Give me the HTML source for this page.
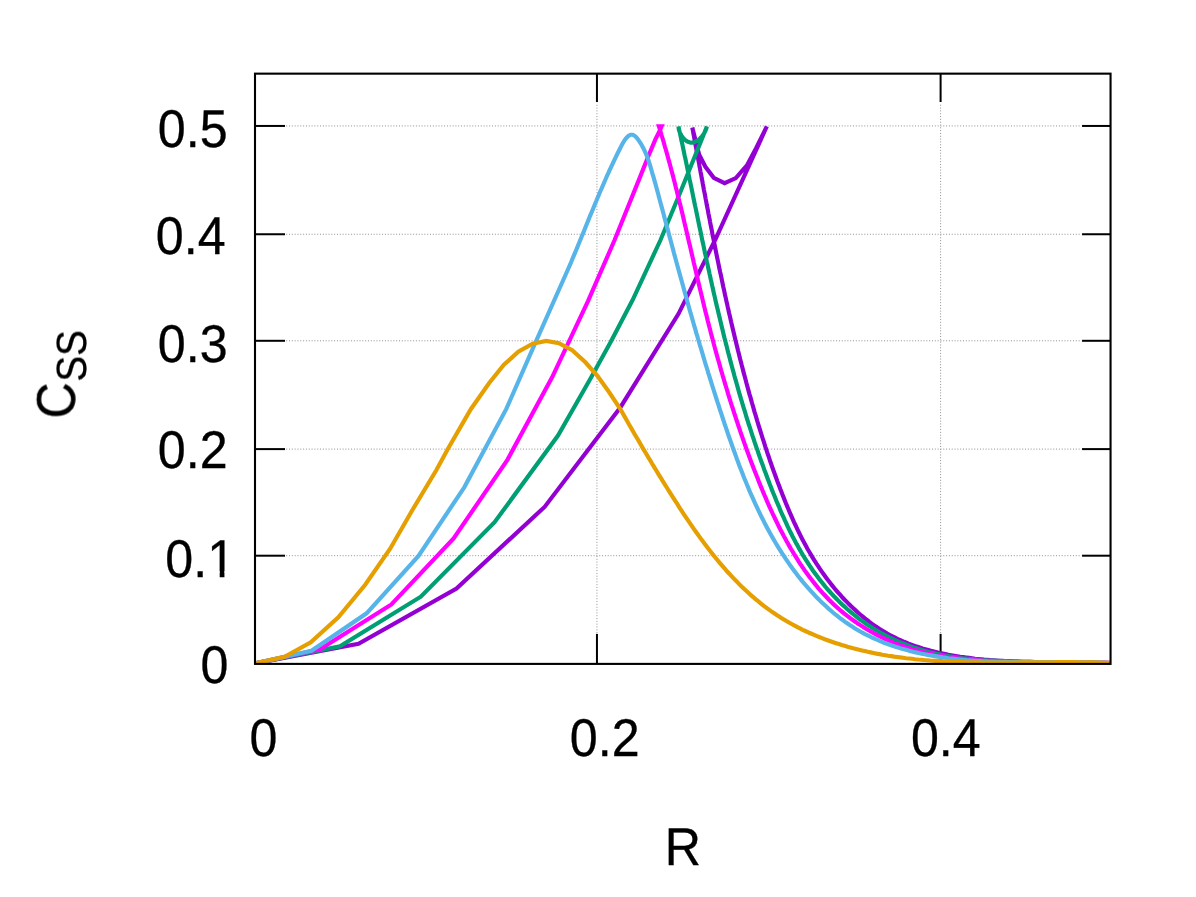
<!DOCTYPE html>
<html><head><meta charset="utf-8"><title>C_SS vs R</title>
<style>html,body{margin:0;padding:0;background:#fff}body{width:1196px;height:897px;overflow:hidden}svg{display:block}text{font-family:"Liberation Sans",sans-serif;fill:#000;stroke:#000;stroke-width:0.3px;text-rendering:geometricPrecision;will-change:transform}</style>
</head><body>
<svg width="1196" height="897" viewBox="0 0 1196 897">
<rect x="0" y="0" width="1196" height="897" fill="#ffffff"/>
<g stroke="#909096" stroke-width="1" stroke-dasharray="1 1.82" fill="none">
<line x1="286.20" y1="125.95" x2="1081.55" y2="125.95"/>
<line x1="286.20" y1="234.25" x2="1081.55" y2="234.25"/>
<line x1="286.20" y1="340.80" x2="1081.55" y2="340.80"/>
<line x1="286.20" y1="449.10" x2="1081.55" y2="449.10"/>
<line x1="286.20" y1="555.70" x2="1081.55" y2="555.70"/>
<line x1="596.95" y1="633.10" x2="596.95" y2="103.65"/>
<line x1="940.60" y1="633.10" x2="940.60" y2="103.65"/>
</g>
<g stroke="#000" stroke-width="2.00" fill="none">
<line x1="255.00" y1="125.95" x2="285.00" y2="125.95"/>
<line x1="1110.55" y1="125.95" x2="1082.05" y2="125.95"/>
<line x1="255.00" y1="234.25" x2="285.00" y2="234.25"/>
<line x1="1110.55" y1="234.25" x2="1082.05" y2="234.25"/>
<line x1="255.00" y1="340.80" x2="285.00" y2="340.80"/>
<line x1="1110.55" y1="340.80" x2="1082.05" y2="340.80"/>
<line x1="255.00" y1="449.10" x2="285.00" y2="449.10"/>
<line x1="1110.55" y1="449.10" x2="1082.05" y2="449.10"/>
<line x1="255.00" y1="555.70" x2="285.00" y2="555.70"/>
<line x1="1110.55" y1="555.70" x2="1082.05" y2="555.70"/>
<line x1="596.95" y1="663.90" x2="596.95" y2="633.90"/>
<line x1="596.95" y1="73.65" x2="596.95" y2="102.05"/>
<line x1="940.60" y1="663.90" x2="940.60" y2="633.90"/>
<line x1="940.60" y1="73.65" x2="940.60" y2="102.05"/>
</g>
<defs><clipPath id="pc"><rect x="255.00" y="73.65" width="855.55" height="590.25"/></clipPath></defs>
<g clip-path="url(#pc)" fill="none" stroke-width="4.15" stroke-linejoin="miter" stroke-miterlimit="10" stroke-linecap="butt">
<polyline stroke="#9400d3" points="255.0,663.4 358.5,643.8 456.5,588.5 544.6,506.9 620.5,407.2 678.5,313.8 715.1,240.0 766.8,126.5 756.2,148.0 746.9,165.4 735.8,178.1 724.6,183.1 713.8,177.8 705.4,166.8 699.2,154.8 692.3,127.5 692.9,130.5 693.4,133.5 694.0,136.4 694.5,139.4 695.1,142.4 695.6,145.4 696.2,148.4 696.7,151.3 697.3,154.3 697.9,157.3 698.4,160.2 699.0,163.2 699.5,166.2 700.1,169.1 700.6,172.1 701.2,175.0 701.7,178.0 702.3,180.9 702.8,183.9 703.4,186.8 703.9,189.8 704.5,192.7 705.1,195.7 705.6,198.6 706.2,201.6 706.7,204.5 707.3,207.5 707.9,210.4 708.4,213.3 709.0,216.3 709.6,219.2 710.1,222.1 710.7,225.1 711.3,228.0 711.9,230.9 712.4,233.9 713.0,236.8 713.6,239.7 714.2,242.6 714.8,245.6 715.3,248.5 715.9,251.4 716.5,254.3 717.1,257.3 717.7,260.2 718.3,263.1 718.9,266.0 719.5,269.0 720.1,271.9 720.8,274.8 721.4,277.7 722.0,280.6 722.6,283.5 723.2,286.5 723.9,289.4 724.5,292.3 725.1,295.2 725.8,298.1 726.4,301.0 727.1,303.9 727.7,306.9 728.4,309.8 729.0,312.7 729.7,315.6 730.4,318.5 731.0,321.4 731.7,324.3 732.4,327.2 733.1,330.2 733.8,333.1 734.5,336.0 735.2,338.9 735.9,341.8 736.6,344.7 737.3,347.6 738.0,350.5 738.8,353.5 739.5,356.4 740.2,359.3 741.0,362.2 741.7,365.1 742.5,368.0 743.2,370.9 744.0,373.9 744.8,376.8 745.6,379.7 746.3,382.6 747.1,385.5 747.9,388.4 748.7,391.4 749.5,394.3 750.4,397.2 751.2,400.1 752.0,403.0 752.9,406.0 753.7,408.9 754.5,411.8 755.4,414.7 756.3,417.6 757.1,420.5 758.0,423.4 758.9,426.3 759.8,429.2 760.7,432.1 761.6,435.0 762.5,437.9 763.5,440.8 764.4,443.7 765.3,446.6 766.3,449.5 767.2,452.4 768.2,455.2 769.2,458.1 770.1,461.0 771.1,463.8 772.1,466.7 773.1,469.5 774.2,472.4 775.2,475.2 776.2,478.0 777.2,480.9 778.3,483.7 779.4,486.5 780.4,489.3 781.5,492.1 782.6,494.9 783.7,497.6 784.8,500.4 785.9,503.2 787.0,505.9 788.2,508.7 789.3,511.4 790.5,514.1 791.7,516.9 792.9,519.6 794.1,522.3 795.4,525.0 796.6,527.6 797.9,530.3 799.2,533.0 800.5,535.6 801.8,538.2 803.2,540.9 804.6,543.5 806.0,546.1 807.4,548.7 808.9,551.2 810.4,553.8 811.9,556.4 813.4,558.9 815.0,561.4 816.6,563.9 818.3,566.4 819.9,568.9 821.6,571.4 823.3,573.8 825.1,576.3 826.9,578.7 828.7,581.1 830.6,583.5 832.5,585.9 834.4,588.2 836.4,590.6 838.4,592.9 840.5,595.2 842.5,597.5 844.6,599.7 846.8,601.9 848.9,604.1 851.1,606.2 853.3,608.3 855.6,610.4 857.9,612.5 860.2,614.5 862.5,616.4 864.9,618.4 867.3,620.2 869.7,622.1 872.1,623.9 874.6,625.6 877.1,627.3 879.6,628.9 882.1,630.5 884.7,632.1 887.2,633.6 889.8,635.0 892.5,636.4 895.1,637.7 897.8,639.0 900.4,640.2 903.1,641.4 905.9,642.5 908.6,643.6 911.3,644.6 914.1,645.6 916.9,646.6 919.7,647.5 922.5,648.4 925.3,649.2 928.2,650.0 931.0,650.8 933.9,651.5 936.8,652.2 939.7,652.9 942.6,653.5 945.5,654.1 948.4,654.7 951.3,655.2 954.3,655.7 957.2,656.2 960.2,656.7 963.2,657.1 966.1,657.5 969.1,657.9 972.1,658.3 975.1,658.7 978.1,659.0 981.1,659.3 984.1,659.6 987.1,659.8 990.2,660.1 993.2,660.3 996.2,660.5 999.2,660.7 1002.3,660.9 1005.3,661.1 1008.4,661.2 1011.4,661.3 1014.4,661.5 1017.5,661.6 1020.5,661.7 1023.6,661.8 1026.6,661.9 1029.7,661.9 1032.7,662.0 1035.8,662.0 1038.8,662.1 1041.9,662.1 1044.9,662.2 1047.9,662.2 1051.0,662.2 1054.0,662.2 1057.0,662.3 1060.0,662.3 1063.1,662.3 1066.1,662.3 1069.1,662.3 1072.1,662.4 1075.1,662.4 1078.1,662.4 1081.1,662.4 1084.1,662.5 1087.0,662.5 1090.0,662.5 1092.9,662.6 1095.9,662.6 1098.8,662.7 1101.8,662.7 1104.7,662.8 1107.6,662.9 1110.5,663.0"/>
<polyline stroke="#009e73" points="255.0,663.4 340.0,646.2 420.8,596.7 494.6,522.2 558.0,435.5 590.8,378.0 610.4,342.5 632.6,300.0 660.5,240.0 680.0,193.0 689.2,170.2 697.7,149.4 706.9,126.5 706.5,127.9 706.1,129.3 705.4,130.8 704.7,132.2 703.9,133.6 703.0,135.0 702.0,136.3 700.9,137.6 699.7,138.7 698.5,139.8 697.3,140.7 696.0,141.4 694.7,142.0 693.4,142.4 692.0,142.6 690.7,142.6 689.4,142.3 688.1,141.8 686.8,141.2 685.6,140.3 684.4,139.3 683.3,138.1 682.3,136.9 681.4,135.5 680.6,134.1 679.9,132.6 679.3,131.1 678.9,129.5 678.6,128.0 678.5,126.5 679.1,129.4 679.8,132.4 680.4,135.3 681.0,138.2 681.6,141.2 682.3,144.1 682.9,147.0 683.5,150.0 684.1,152.9 684.7,155.9 685.4,158.8 686.0,161.7 686.6,164.7 687.2,167.6 687.8,170.6 688.4,173.5 689.0,176.5 689.6,179.4 690.3,182.4 690.9,185.3 691.5,188.2 692.1,191.2 692.7,194.1 693.3,197.1 693.9,200.0 694.5,203.0 695.1,205.9 695.8,208.9 696.4,211.8 697.0,214.8 697.6,217.7 698.2,220.7 698.8,223.6 699.4,226.5 700.1,229.5 700.7,232.4 701.3,235.4 701.9,238.3 702.5,241.3 703.2,244.2 703.8,247.2 704.4,250.1 705.0,253.0 705.7,256.0 706.3,258.9 706.9,261.9 707.6,264.8 708.2,267.8 708.9,270.7 709.5,273.6 710.2,276.6 710.8,279.5 711.5,282.5 712.1,285.4 712.8,288.3 713.4,291.3 714.1,294.2 714.8,297.1 715.4,300.1 716.1,303.0 716.8,305.9 717.5,308.8 718.2,311.8 718.9,314.7 719.6,317.6 720.3,320.6 721.0,323.5 721.7,326.4 722.4,329.3 723.1,332.2 723.8,335.2 724.5,338.1 725.3,341.0 726.0,343.9 726.8,346.8 727.5,349.7 728.2,352.6 729.0,355.5 729.8,358.4 730.5,361.4 731.3,364.3 732.1,367.2 732.9,370.1 733.7,373.0 734.4,375.8 735.2,378.7 736.1,381.6 736.9,384.5 737.7,387.4 738.5,390.3 739.3,393.2 740.2,396.1 741.0,398.9 741.9,401.8 742.7,404.7 743.6,407.6 744.5,410.4 745.4,413.3 746.2,416.2 747.1,419.0 748.0,421.9 748.9,424.8 749.9,427.6 750.8,430.5 751.7,433.3 752.6,436.2 753.6,439.0 754.5,441.9 755.5,444.7 756.5,447.6 757.5,450.4 758.4,453.2 759.4,456.1 760.4,458.9 761.4,461.7 762.5,464.6 763.5,467.4 764.5,470.2 765.6,473.0 766.6,475.8 767.7,478.7 768.8,481.5 769.8,484.3 770.9,487.1 772.0,489.9 773.1,492.7 774.3,495.5 775.4,498.3 776.5,501.1 777.7,503.8 778.9,506.6 780.0,509.4 781.2,512.2 782.4,514.9 783.7,517.7 784.9,520.4 786.2,523.1 787.4,525.9 788.7,528.6 790.0,531.3 791.4,534.0 792.7,536.7 794.1,539.3 795.5,542.0 797.0,544.6 798.4,547.3 799.9,549.9 801.4,552.5 802.9,555.1 804.5,557.6 806.1,560.2 807.7,562.7 809.3,565.2 811.0,567.7 812.7,570.2 814.5,572.7 816.3,575.1 818.1,577.5 819.9,579.9 821.8,582.3 823.7,584.6 825.6,587.0 827.6,589.3 829.6,591.5 831.7,593.8 833.7,596.0 835.9,598.2 838.0,600.4 840.1,602.5 842.3,604.6 844.6,606.6 846.8,608.7 849.1,610.7 851.4,612.6 853.7,614.5 856.0,616.4 858.4,618.3 860.8,620.1 863.3,621.8 865.7,623.5 868.2,625.2 870.7,626.8 873.2,628.4 875.7,630.0 878.3,631.5 880.9,633.0 883.5,634.4 886.1,635.8 888.8,637.1 891.4,638.4 894.1,639.7 896.8,640.9 899.5,642.1 902.2,643.2 905.0,644.3 907.8,645.4 910.5,646.4 913.3,647.4 916.2,648.3 919.0,649.2 921.8,650.1 924.7,650.9 927.5,651.7 930.4,652.4 933.3,653.1 936.2,653.8 939.1,654.4 942.0,655.0 945.0,655.5 947.9,656.0 950.8,656.5 953.8,657.0 956.8,657.4 959.7,657.8 962.7,658.2 965.7,658.5 968.7,658.8 971.7,659.1 974.7,659.4 977.8,659.7 980.8,659.9 983.8,660.1 986.8,660.3 989.9,660.5 992.9,660.6 996.0,660.8 999.0,660.9 1002.1,661.1 1005.1,661.2 1008.2,661.3 1011.2,661.4 1014.3,661.5 1017.3,661.6 1020.4,661.7 1023.4,661.7 1026.5,661.8 1029.6,661.9 1032.6,661.9 1035.7,662.0 1038.7,662.1 1041.8,662.1 1044.8,662.2 1047.9,662.2 1050.9,662.3 1054.0,662.3 1057.0,662.4 1060.0,662.4 1063.1,662.5 1066.1,662.5 1069.1,662.5 1072.1,662.6 1075.1,662.6 1078.1,662.7 1081.1,662.7 1084.1,662.7 1087.0,662.7 1090.0,662.8 1093.0,662.8 1095.9,662.8 1098.9,662.9 1101.8,662.9 1104.7,662.9 1107.6,663.0 1110.5,663.0"/>
<polyline stroke="#ff00ff" points="255.0,663.4 320.0,649.2 391.4,604.5 453.6,538.5 507.4,459.8 552.1,377.3 588.0,301.2 614.6,240.0 640.0,177.1 647.7,157.8 655.4,139.4 660.1,129.8 661.6,126.2 658.9,126.2 659.8,129.2 660.7,132.1 661.5,135.0 662.4,137.9 663.3,140.8 664.1,143.7 664.9,146.6 665.8,149.5 666.6,152.4 667.4,155.3 668.2,158.2 669.0,161.1 669.8,164.0 670.6,166.9 671.3,169.8 672.1,172.7 672.9,175.6 673.6,178.5 674.4,181.4 675.1,184.3 675.8,187.2 676.6,190.1 677.3,193.0 678.0,195.9 678.7,198.8 679.4,201.7 680.2,204.6 680.9,207.5 681.6,210.4 682.3,213.3 683.0,216.2 683.6,219.1 684.3,222.0 685.0,224.9 685.7,227.8 686.4,230.7 687.1,233.7 687.7,236.6 688.4,239.5 689.1,242.4 689.8,245.3 690.5,248.2 691.1,251.1 691.8,254.0 692.5,256.9 693.2,259.8 693.8,262.7 694.5,265.6 695.2,268.5 695.9,271.4 696.5,274.3 697.2,277.3 697.9,280.2 698.6,283.1 699.3,286.0 700.0,288.9 700.7,291.8 701.4,294.7 702.1,297.6 702.8,300.6 703.5,303.5 704.2,306.4 704.9,309.3 705.6,312.2 706.4,315.1 707.1,318.0 707.8,321.0 708.6,323.9 709.3,326.8 710.1,329.7 710.8,332.6 711.6,335.6 712.4,338.5 713.2,341.4 713.9,344.3 714.7,347.2 715.5,350.2 716.3,353.1 717.1,356.0 717.9,358.9 718.8,361.8 719.6,364.7 720.4,367.6 721.2,370.6 722.1,373.5 722.9,376.4 723.8,379.3 724.6,382.2 725.5,385.1 726.4,388.0 727.3,390.9 728.1,393.8 729.0,396.7 729.9,399.6 730.8,402.5 731.7,405.4 732.7,408.2 733.6,411.1 734.5,414.0 735.5,416.9 736.4,419.8 737.4,422.6 738.3,425.5 739.3,428.3 740.2,431.2 741.2,434.1 742.2,436.9 743.2,439.8 744.2,442.6 745.2,445.4 746.2,448.3 747.2,451.1 748.3,453.9 749.3,456.7 750.3,459.6 751.4,462.4 752.5,465.2 753.5,468.0 754.6,470.8 755.7,473.6 756.8,476.3 757.9,479.1 759.0,481.9 760.1,484.7 761.2,487.4 762.4,490.2 763.5,492.9 764.7,495.7 765.9,498.4 767.0,501.1 768.2,503.8 769.4,506.6 770.7,509.3 771.9,512.0 773.1,514.7 774.4,517.3 775.7,520.0 777.0,522.7 778.3,525.4 779.6,528.0 781.0,530.7 782.4,533.3 783.7,535.9 785.2,538.6 786.6,541.2 788.1,543.8 789.5,546.4 791.0,549.0 792.6,551.5 794.1,554.1 795.7,556.7 797.3,559.2 798.9,561.8 800.6,564.3 802.3,566.8 804.0,569.3 805.7,571.8 807.5,574.3 809.3,576.7 811.1,579.1 813.0,581.5 814.9,583.9 816.8,586.2 818.7,588.6 820.7,590.9 822.7,593.1 824.8,595.3 826.9,597.5 829.0,599.7 831.1,601.8 833.3,603.9 835.5,606.0 837.7,608.0 840.0,610.0 842.3,611.9 844.6,613.8 847.0,615.7 849.4,617.5 851.8,619.3 854.2,621.0 856.7,622.8 859.2,624.4 861.7,626.1 864.3,627.7 866.8,629.2 869.4,630.7 872.0,632.2 874.6,633.7 877.3,635.1 879.9,636.4 882.6,637.7 885.3,639.0 888.0,640.2 890.8,641.4 893.5,642.6 896.3,643.7 899.1,644.8 901.9,645.8 904.7,646.8 907.5,647.7 910.3,648.6 913.2,649.5 916.0,650.3 918.9,651.1 921.8,651.8 924.7,652.5 927.6,653.2 930.5,653.8 933.4,654.5 936.3,655.0 939.2,655.6 942.2,656.1 945.1,656.5 948.1,657.0 951.0,657.4 954.0,657.8 957.0,658.2 960.0,658.5 963.0,658.9 965.9,659.2 968.9,659.4 972.0,659.7 975.0,659.9 978.0,660.2 981.0,660.4 984.0,660.6 987.1,660.7 990.1,660.9 993.1,661.1 996.2,661.2 999.2,661.3 1002.2,661.4 1005.3,661.5 1008.3,661.6 1011.4,661.7 1014.4,661.8 1017.5,661.9 1020.5,661.9 1023.6,662.0 1026.6,662.0 1029.6,662.1 1032.7,662.1 1035.7,662.1 1038.8,662.2 1041.8,662.2 1044.9,662.2 1047.9,662.2 1050.9,662.2 1054.0,662.3 1057.0,662.3 1060.0,662.3 1063.0,662.3 1066.0,662.3 1069.0,662.3 1072.0,662.3 1075.0,662.4 1078.0,662.4 1081.0,662.4 1084.0,662.4 1087.0,662.5 1089.9,662.5 1092.9,662.6 1095.9,662.6 1098.8,662.7 1101.7,662.7 1104.7,662.8 1107.6,662.9 1110.5,663.0"/>
<polyline stroke="#56b4e9" points="255.0,663.4 311.5,650.8 366.6,613.3 418.5,556.0 464.4,487.1 506.2,409.2 533.1,347.9 567.7,270.0 568.9,267.2 570.2,264.3 571.4,261.5 572.5,258.7 573.7,255.9 574.9,253.1 576.1,250.3 577.2,247.6 578.3,244.8 579.5,242.0 580.6,239.3 581.7,236.5 582.9,233.8 584.0,231.0 585.1,228.3 586.2,225.5 587.3,222.8 588.4,220.1 589.5,217.3 590.6,214.6 591.8,211.9 592.9,209.2 594.0,206.4 595.1,203.7 596.3,201.0 597.4,198.2 598.6,195.5 599.7,192.7 600.9,190.0 602.1,187.3 603.3,184.5 604.5,181.7 605.7,179.0 606.9,176.2 608.2,173.4 609.4,170.7 610.7,167.9 612.0,165.1 613.3,162.3 614.7,159.4 616.0,156.6 617.4,153.8 618.8,150.9 620.3,148.1 621.7,145.2 623.2,142.5 624.8,139.9 626.6,137.7 628.4,135.9 630.5,134.7 632.8,134.7 635.1,136.1 637.2,138.3 639.0,140.9 640.8,143.5 642.3,146.2 643.7,148.9 645.0,151.6 646.2,154.3 647.3,157.1 648.3,159.8 649.2,162.6 650.1,165.4 650.9,168.2 651.7,171.0 652.5,173.9 653.4,176.7 654.2,179.6 655.0,182.4 655.8,185.3 656.6,188.2 657.4,191.1 658.2,194.0 658.9,196.9 659.7,199.8 660.5,202.7 661.3,205.6 662.1,208.6 662.9,211.5 663.7,214.4 664.4,217.4 665.2,220.3 666.0,223.2 666.8,226.2 667.6,229.1 668.4,232.1 669.1,235.0 669.9,237.9 670.7,240.8 671.5,243.8 672.3,246.7 673.1,249.6 673.8,252.5 674.6,255.4 675.4,258.3 676.2,261.3 677.0,264.2 677.8,267.1 678.6,270.0 679.4,272.9 680.2,275.8 681.0,278.6 681.8,281.5 682.6,284.4 683.4,287.3 684.2,290.2 685.0,293.1 685.8,296.0 686.6,298.9 687.4,301.7 688.2,304.6 689.0,307.5 689.8,310.4 690.6,313.2 691.5,316.1 692.3,319.0 693.1,321.8 693.9,324.7 694.8,327.6 695.6,330.4 696.4,333.3 697.3,336.2 698.1,339.0 699.0,341.9 699.8,344.8 700.7,347.6 701.5,350.5 702.4,353.3 703.2,356.2 704.1,359.0 704.9,361.9 705.8,364.8 706.7,367.6 707.6,370.5 708.4,373.3 709.3,376.2 710.2,379.0 711.1,381.9 712.0,384.8 712.9,387.6 713.8,390.5 714.7,393.3 715.6,396.2 716.5,399.0 717.4,401.9 718.4,404.7 719.3,407.6 720.2,410.5 721.2,413.3 722.1,416.2 723.0,419.0 724.0,421.9 724.9,424.8 725.9,427.6 726.9,430.5 727.8,433.3 728.8,436.2 729.8,439.0 730.8,441.9 731.8,444.8 732.8,447.6 733.8,450.5 734.9,453.3 735.9,456.1 736.9,459.0 738.0,461.8 739.0,464.7 740.1,467.5 741.2,470.3 742.3,473.1 743.4,475.9 744.5,478.7 745.7,481.5 746.8,484.3 748.0,487.1 749.1,489.9 750.3,492.7 751.5,495.4 752.8,498.2 754.0,500.9 755.2,503.7 756.5,506.4 757.8,509.1 759.1,511.8 760.4,514.6 761.7,517.2 763.1,519.9 764.4,522.6 765.8,525.3 767.2,527.9 768.6,530.5 770.1,533.2 771.5,535.8 773.0,538.4 774.5,541.0 776.0,543.5 777.6,546.1 779.1,548.7 780.7,551.2 782.3,553.7 784.0,556.2 785.6,558.7 787.3,561.2 789.0,563.6 790.7,566.1 792.5,568.5 794.3,570.9 796.1,573.3 797.9,575.7 799.7,578.0 801.6,580.4 803.5,582.7 805.5,585.0 807.4,587.2 809.4,589.5 811.4,591.7 813.5,593.9 815.5,596.1 817.6,598.2 819.7,600.4 821.9,602.5 824.1,604.5 826.3,606.6 828.5,608.6 830.7,610.5 833.0,612.5 835.3,614.4 837.6,616.2 840.0,618.1 842.4,619.8 844.8,621.6 847.2,623.3 849.7,625.0 852.2,626.6 854.7,628.2 857.2,629.7 859.8,631.2 862.4,632.7 865.0,634.1 867.7,635.4 870.3,636.7 873.0,638.0 875.7,639.2 878.5,640.4 881.3,641.6 884.0,642.7 886.8,643.7 889.7,644.8 892.5,645.8 895.4,646.7 898.2,647.6 901.1,648.5 904.0,649.3 906.9,650.1 909.9,650.9 912.8,651.7 915.7,652.4 918.7,653.0 921.7,653.7 924.6,654.3 927.6,654.9 930.6,655.4 933.6,655.9 936.6,656.4 939.6,656.9 942.7,657.4 945.7,657.8 948.7,658.2 951.7,658.5 954.7,658.9 957.7,659.2 960.7,659.5 963.8,659.8 966.8,660.1 969.8,660.3 972.8,660.5 975.8,660.7 978.8,660.9 981.8,661.1 984.8,661.2 987.7,661.4 990.7,661.5 993.7,661.6 996.7,661.7 999.7,661.8 1002.7,661.9 1005.6,661.9 1008.6,662.0 1011.6,662.0 1014.6,662.1 1017.6,662.1 1020.5,662.1 1023.5,662.1 1026.5,662.1 1029.5,662.1 1032.4,662.1 1035.4,662.1 1038.4,662.1 1041.4,662.1 1044.3,662.1 1047.3,662.1 1050.3,662.1 1053.3,662.1 1056.3,662.1 1059.3,662.1 1062.2,662.1 1065.2,662.1 1068.2,662.1 1071.2,662.1 1074.2,662.1 1077.2,662.1 1080.2,662.1 1083.2,662.2 1086.3,662.2 1089.3,662.3 1092.3,662.3 1095.3,662.4 1098.3,662.5 1101.4,662.6 1104.4,662.7 1107.5,662.9 1110.5,663.0"/>
<polyline stroke="#e69f00" points="255.0,663.4 284.6,656.9 310.8,642.3 338.3,617.3 365.2,584.7 390.0,549.0 413.0,509.0 436.4,470.0 447.7,449.2 470.8,409.2 489.0,383.3 503.9,364.8 518.3,351.7 532.7,343.7 546.2,340.9 558.9,343.2 572.2,350.2 585.4,362.3 597.4,375.9 609.0,392.0 620.0,408.5 621.5,411.1 623.0,413.8 624.5,416.4 626.0,419.0 627.4,421.6 628.9,424.2 630.4,426.8 631.9,429.4 633.4,432.0 634.9,434.6 636.5,437.2 638.0,439.8 639.5,442.4 641.0,445.0 642.5,447.6 644.0,450.1 645.6,452.7 647.1,455.3 648.6,457.9 650.2,460.4 651.7,463.0 653.3,465.6 654.8,468.1 656.4,470.7 657.9,473.2 659.5,475.8 661.1,478.3 662.6,480.9 664.2,483.4 665.8,486.0 667.4,488.5 669.0,491.1 670.6,493.6 672.2,496.1 673.8,498.7 675.4,501.2 677.1,503.7 678.7,506.3 680.3,508.8 682.0,511.3 683.6,513.8 685.3,516.3 687.0,518.8 688.7,521.3 690.4,523.8 692.1,526.3 693.8,528.8 695.5,531.2 697.3,533.7 699.0,536.1 700.8,538.6 702.6,541.0 704.4,543.4 706.2,545.8 708.0,548.2 709.8,550.6 711.7,553.0 713.6,555.4 715.5,557.7 717.4,560.0 719.3,562.4 721.3,564.7 723.2,566.9 725.2,569.2 727.2,571.5 729.3,573.7 731.3,575.9 733.4,578.1 735.5,580.3 737.6,582.4 739.7,584.6 741.8,586.7 744.0,588.8 746.2,590.8 748.4,592.8 750.6,594.9 752.9,596.8 755.2,598.8 757.5,600.7 759.8,602.6 762.1,604.5 764.5,606.3 766.9,608.1 769.3,609.9 771.7,611.6 774.2,613.3 776.7,615.0 779.2,616.6 781.7,618.2 784.3,619.8 786.8,621.3 789.4,622.8 792.1,624.3 794.7,625.7 797.4,627.1 800.0,628.4 802.7,629.8 805.4,631.0 808.2,632.3 810.9,633.5 813.6,634.7 816.4,635.9 819.2,637.0 822.0,638.1 824.8,639.2 827.6,640.2 830.4,641.2 833.2,642.2 836.1,643.2 838.9,644.1 841.7,645.0 844.6,645.8 847.5,646.7 850.3,647.5 853.2,648.3 856.1,649.0 859.0,649.7 861.9,650.4 864.8,651.1 867.7,651.8 870.6,652.4 873.5,653.0 876.4,653.6 879.4,654.1 882.3,654.7 885.3,655.2 888.2,655.7 891.2,656.1 894.1,656.6 897.1,657.0 900.1,657.4 903.0,657.8 906.0,658.2 909.0,658.5 912.0,658.8 915.0,659.2 918.0,659.5 920.9,659.7 923.9,660.0 927.0,660.2 930.0,660.5 933.0,660.7 936.0,660.9 939.0,661.1 942.0,661.3 945.0,661.4 948.1,661.6 951.1,661.7 954.1,661.8 957.1,661.9 960.2,662.0 963.2,662.1 966.2,662.2 969.3,662.3 972.3,662.3 975.3,662.4 978.4,662.4 981.4,662.5 984.4,662.5 987.5,662.5 990.5,662.6 993.6,662.6 996.6,662.6 999.6,662.6 1002.7,662.6 1005.7,662.5 1008.7,662.5 1011.8,662.5 1014.8,662.5 1017.8,662.5 1020.9,662.4 1023.9,662.4 1026.9,662.4 1030.0,662.4 1033.0,662.3 1036.0,662.3 1039.0,662.3 1042.1,662.2 1045.1,662.2 1048.1,662.2 1051.1,662.2 1054.1,662.2 1057.1,662.1 1060.1,662.1 1063.1,662.1 1066.1,662.1 1069.1,662.1 1072.1,662.1 1075.1,662.1 1078.0,662.2 1081.0,662.2 1084.0,662.2 1087.0,662.2 1089.9,662.3 1092.9,662.4 1095.8,662.4 1098.8,662.5 1101.7,662.6 1104.6,662.7 1107.6,662.8 1110.5,662.9"/>
</g>
<rect x="255.00" y="73.65" width="855.55" height="590.25" fill="none" stroke="#000" stroke-width="2.10"/>
<g>
<text transform="translate(157.85 146.90) scale(1 1.058)" font-size="50.20px">0.5</text>
<text transform="translate(155.85 253.90) scale(1 1.058)" font-size="50.20px">0.4</text>
<text transform="translate(157.85 362.00) scale(1 1.058)" font-size="50.20px">0.3</text>
<text transform="translate(157.85 468.25) scale(1 1.058)" font-size="50.20px">0.2</text>
<text transform="translate(165.35 576.50) scale(1 1.058)" font-size="50.20px">0.1</text>
<text transform="translate(200.50 683.35) scale(1 1.058)" font-size="50.20px">0</text>
<text transform="translate(249.40 755.60) scale(1 1.058)" font-size="50.20px">0</text>
<text transform="translate(569.80 755.50) scale(1 1.058)" font-size="50.20px">0.2</text>
<text transform="translate(910.90 755.50) scale(1 1.058)" font-size="50.20px">0.4</text>
<rect x="209.5" y="571.3" width="10.19" height="7.2" fill="#fff"/>
<rect x="224.43" y="571.3" width="10" height="7.2" fill="#fff"/>
<text transform="translate(664.70 865.30) scale(1 1.058)" font-size="50.20px">R</text>
<text transform="translate(74.70 418.50) rotate(-90) scale(1 1.085)" font-size="50.20px">C</text>
<text transform="translate(85.50 381.60) rotate(-90) scale(1 1.100)" font-size="38.50px">SS</text>
</g>
</svg>
</body></html>
